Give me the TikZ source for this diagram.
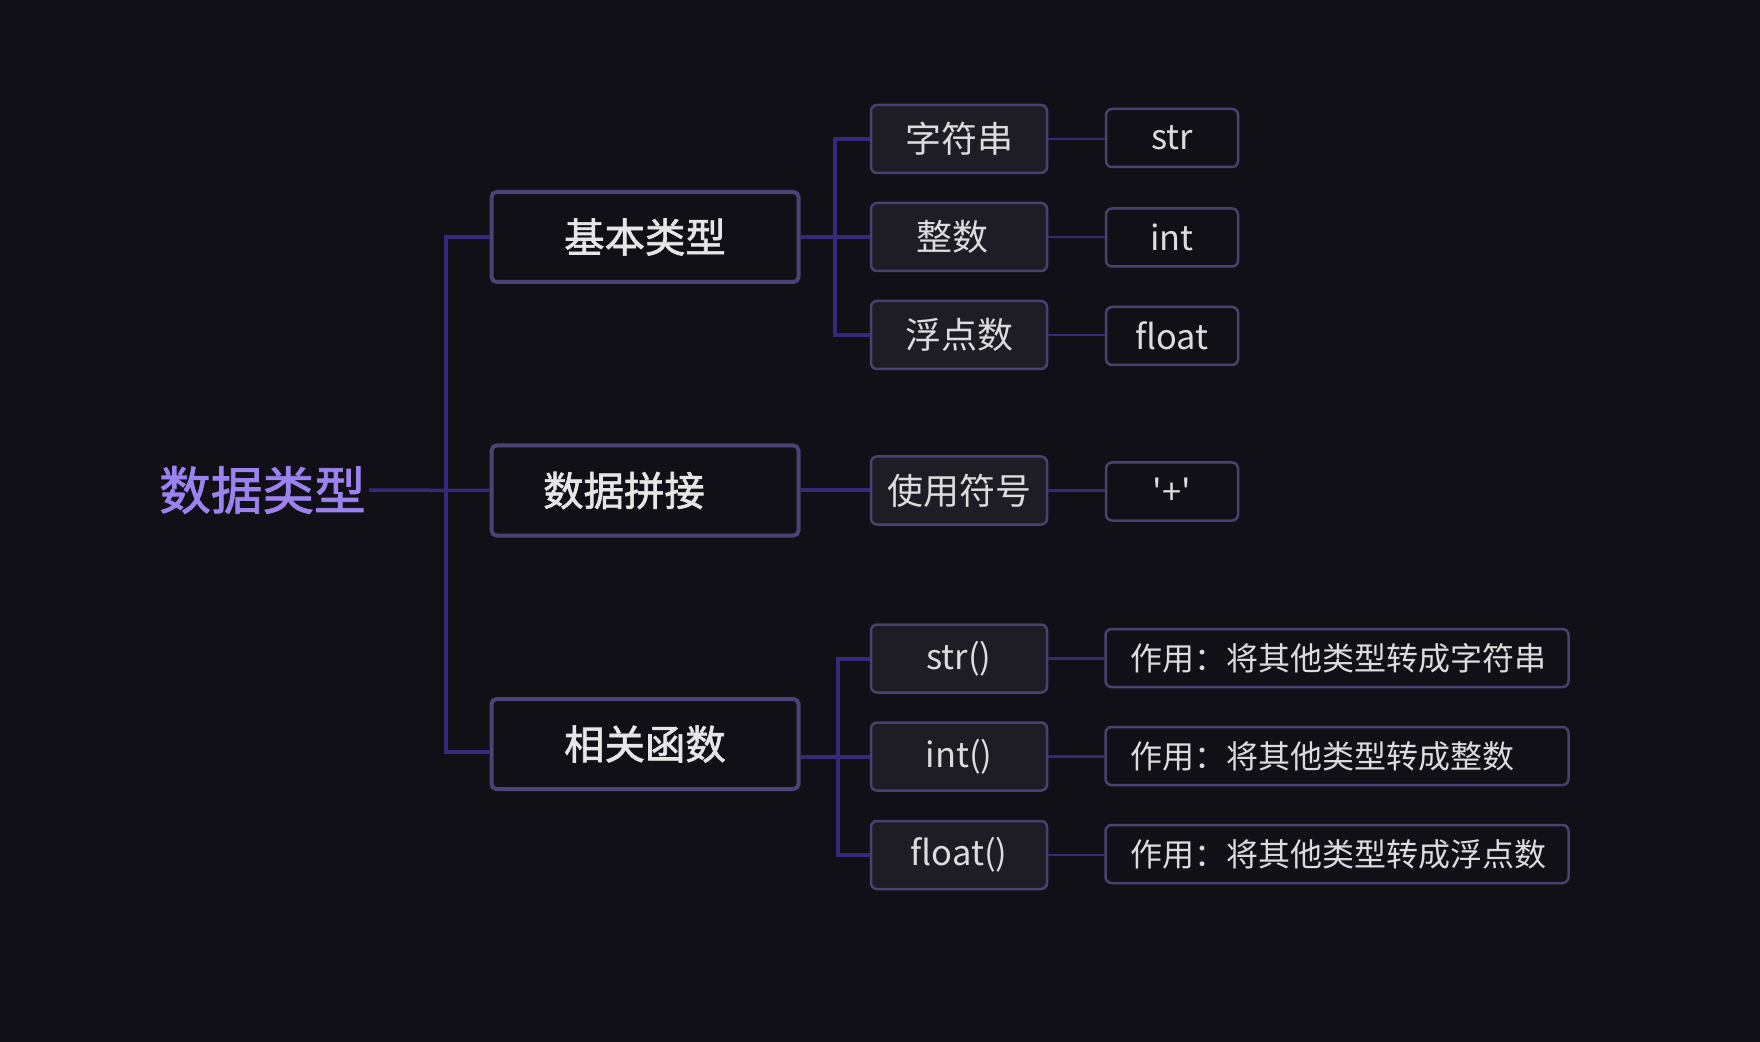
\documentclass[tikz,border=0pt]{standalone}
\usepackage{fontspec}
\setmainfont{Noto Sans CJK SC}[Ligatures=TeXOff]
\newfontfamily\medfont{Noto Sans CJK SC}[Ligatures=TeXOff,FakeBold=1.6]
\usetikzlibrary{calc}
\definecolor{bgc}{HTML}{111016}
\definecolor{rootc}{HTML}{9C82EF}
\definecolor{borderone}{HTML}{4B4276}
\definecolor{bordertwo}{HTML}{4A4172}
\definecolor{filltwo}{HTML}{1E1D25}
\definecolor{linec}{HTML}{36297A}
\definecolor{textone}{HTML}{E6E6E6}
\definecolor{texttwo}{HTML}{DCDCDC}
\begin{document}
\begin{tikzpicture}[x=0.5pt,y=-0.5pt,
  rootnode/.style={inner sep=1.5pt, text=rootc, font=\fontsize{25.8}{28}\medfont},
  lvlone/.style={draw=borderone, line width=2pt, fill=bgc, rounded corners=2.5pt,
    minimum width=153.5pt, minimum height=45pt, inner sep=0pt, text=textone,
    font=\fontsize{20.2}{22}\medfont},
  lvltwo/.style={draw=bordertwo, line width=1.25pt, fill=filltwo, rounded corners=3pt,
    minimum width=88pt, minimum height=34pt, inner sep=0pt, text=texttwo,
    font=\fontsize{17.25}{20}\selectfont},
  cjktwo/.style={lvltwo, font=\fontsize{18}{20}\selectfont},
  lvlthree/.style={draw=bordertwo, line width=1.25pt, fill=bgc, rounded corners=3pt,
    minimum width=66pt, minimum height=29pt, inner sep=0pt, text=texttwo,
    font=\fontsize{17.2}{20}\selectfont},
  lvlwide/.style={draw=bordertwo, line width=1.25pt, fill=bgc, rounded corners=3pt,
    minimum width=231.5pt, minimum height=29pt, inner sep=0pt, text=texttwo,
    font=\fontsize{16}{20}\selectfont},
  trunk/.style={draw=linec, line width=1.75pt},
  branch/.style={draw=linec, line width=2pt},
  leaf/.style={draw=linec, line width=1.25pt}
]
\fill[bgc] (0,0) rectangle (1760,1042);
\useasboundingbox (0,0) rectangle (1760,1042);

% root
\node[rootnode] (root) at (262.5,490) {数据类型};

% level one
\node[lvlone] (b1) at (645,237) {基本类型};
\node[lvlone] (b2) at (645,490.5) {数据拼接\hspace*{21pt}};
\node[lvlone] (b3) at (645,744) {相关函数};

% level two
\node[cjktwo] (c1) at (959,139) {字符串};
\node[cjktwo] (c2) at (959,237) {整数\hspace*{7pt}};
\node[cjktwo] (c3) at (959,335) {浮点数};
\node[cjktwo] (c4) at (959,490.5) {使用符号};
\node[lvltwo] (c5) at (959,658.5) {str()};
\node[lvltwo] (c6) at (959,756.5) {int()};
\node[lvltwo] (c7) at (959,855) {float()};

% level three
\node[lvlthree] (d1) at (1172,138) {str};
\node[lvlthree] (d2) at (1172,237.5) {int};
\node[lvlthree] (d3) at (1172,336) {float};
\node[lvlthree] (d4) at (1172,491.5) {'+'};
\node[lvlwide] (d5) at (1337,658) {\makebox[207pt][l]{作用：将其他类型转成字符串}};
\node[lvlwide] (d6) at (1337,756) {\makebox[207pt][l]{作用：将其他类型转成整数}};
\node[lvlwide] (d7) at (1337,854) {\makebox[207pt][l]{作用：将其他类型转成浮点数}};

% trunk
\coordinate (t) at (446,490);
\draw[trunk] (root.east) -- (b2.west);
\draw[trunk] (b1.west) -- (b1.west -| t) -- ($(t |- b3.west)+(0,8)$) -- ($(b3.west)+(0,8)$);

% branches
\coordinate (u) at (835,0);
\coordinate (v) at (837.5,0);
\draw[branch] (b1.east |- c2.west) -- (c2.west);
\draw[branch] (c1.west) -- (c1.west -| u) -- (u |- c3.west) -- (c3.west);
\draw[branch] (b2.east) -- (c4.west);
\draw[branch] (b3.east |- c6.west) -- (c6.west);
\draw[branch] (c5.west) -- (c5.west -| v) -- (v |- c7.west) -- (c7.west);

% leaves
\draw[leaf] (c1.east) -- (c1.east -| d1.west);
\draw[leaf] (c2.east) -- (c2.east -| d2.west);
\draw[leaf] (c3.east) -- (c3.east -| d3.west);
\draw[leaf] (c4.east) -- (c4.east -| d4.west);
\draw[leaf] (c5.east) -- (c5.east -| d5.west);
\draw[leaf] (c6.east) -- (c6.east -| d6.west);
\draw[leaf] (c7.east) -- (c7.east -| d7.west);
\end{tikzpicture}
\end{document}
